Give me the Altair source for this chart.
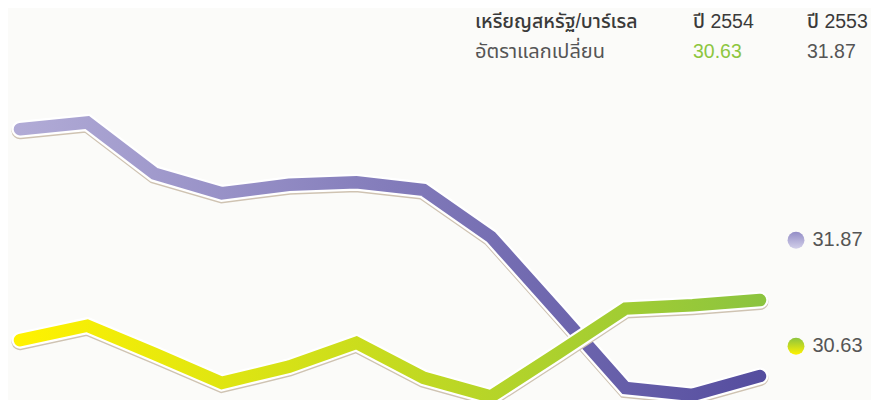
import altair as alt
import pandas as pd

# ---- data ----
months = list(range(1, 13))
rate_2553 = [33.17, 33.25, 32.65, 32.42, 32.52, 32.55, 32.46, 31.91, 31.03, 30.14, 30.06, 30.28]
rate_2554 = [30.70, 30.87, 30.54, 30.20, 30.39, 30.67, 30.26, 30.04, 30.55, 31.07, 31.11, 31.17]
series_names = ["ปี 2553", "ปี 2554"]
avg_values = [31.87, 30.63]
avg_labels = ["31.87", "30.63"]
header_row1 = ["เหรียญสหรัฐ/บาร์เรล", "ปี 2554", "ปี 2553"]
header_row2 = ["อัตราแลกเปลี่ยน", "30.63", "31.87"]

df = pd.DataFrame({
    "month": months * 2,
    "rate": rate_2553 + rate_2554,
    "series": [series_names[0]] * 12 + [series_names[1]] * 12,
})
df_avg = pd.DataFrame({"series": series_names, "value": avg_values, "label": avg_labels})

FONT = "Liberation Sans, Noto Sans Thai, Noto Sans, sans-serif"
W, H = 863, 392
xs = alt.Scale(domain=[0.8216, 13.65], nice=False, zero=False)
ys = alt.Scale(domain=[30.0, 34.59], nice=False, zero=False)

def hgrad(c0, c1):
    return alt.LinearGradient(gradient="linear", x1=0, x2=1, y1=0, y2=0,
                              stops=[alt.GradientStop(color=c0, offset=0),
                                     alt.GradientStop(color=c1, offset=1)])

def vgrad(c0, c1):
    return alt.LinearGradient(gradient="linear", x1=0, x2=0, y1=0, y2=1,
                              stops=[alt.GradientStop(color=c0, offset=0),
                                     alt.GradientStop(color=c1, offset=1)])

base = alt.Chart(df).encode(
    x=alt.X("month:Q", scale=xs, axis=None),
    y=alt.Y("rate:Q", scale=ys, axis=None),
    order="month:Q",
)

def line_layers(name, grad):
    b = base.transform_filter(alt.datum.series == name)
    shadow = b.mark_line(stroke="#cfc3b2", strokeWidth=17, strokeCap="round", yOffset=1.5)
    halo = b.mark_line(stroke="#ffffff", strokeWidth=17, strokeCap="round")
    col = b.mark_line(stroke=grad, strokeWidth=12.5, strokeCap="round")
    return [shadow, halo, col]

layers = []
layers += line_layers(series_names[0], hgrad("#b1abd6", "#554d9f"))
layers += line_layers(series_names[1], hgrad("#fff200", "#8cc43f"))

avg_base = alt.Chart(df_avg).encode(y=alt.Y("value:Q", scale=ys, axis=None))
dot_fills = {series_names[0]: vgrad("#938dc6", "#d2cfe9"),
             series_names[1]: vgrad("#8cc43f", "#fff200")}
for name in series_names:
    layers.append(
        avg_base.transform_filter(alt.datum.series == name)
        .mark_point(filled=True, size=285, fill=dot_fills[name], opacity=1, strokeWidth=0)
        .encode(x=alt.value(788))
    )
layers.append(
    avg_base.mark_text(align="left", baseline="middle", fontSize=20, font=FONT, color="#555555")
    .encode(x=alt.value(804.5), text="label:N")
)

hdr = pd.DataFrame({
    "text": header_row1 + header_row2,
    "col": [0, 1, 2, 0, 1, 2],
    "row": [0, 0, 0, 1, 1, 1],
})
col_x = [467, 685, 799]
row_y = [19.5, 49.5]
for i, r in hdr.iterrows():
    color = "#3a3a3a" if r["row"] == 0 else ("#8dc63f" if r["col"] == 1 else "#555555")
    weight = 500 if r["row"] == 0 else 400
    if r["col"] == 0:
        size = 19.5 if r["row"] == 0 else 20
    else:
        size = 19.5
    layers.append(
        alt.Chart(pd.DataFrame({"t": [r["text"]]}))
        .mark_text(align="left", baseline="alphabetic", fontSize=size, font=FONT,
                   color=color, fontWeight=weight)
        .encode(x=alt.value(col_x[r["col"]]), y=alt.value(row_y[r["row"]]), text="t:N")
    )

chart = (
    alt.layer(*layers)
    .properties(width=W, height=H, background="#fbfbf9", padding=0, autosize="none")
    .configure_view(stroke=None)
)
chart.save("out.html", embed_options={"renderer": "svg", "actions": False})
